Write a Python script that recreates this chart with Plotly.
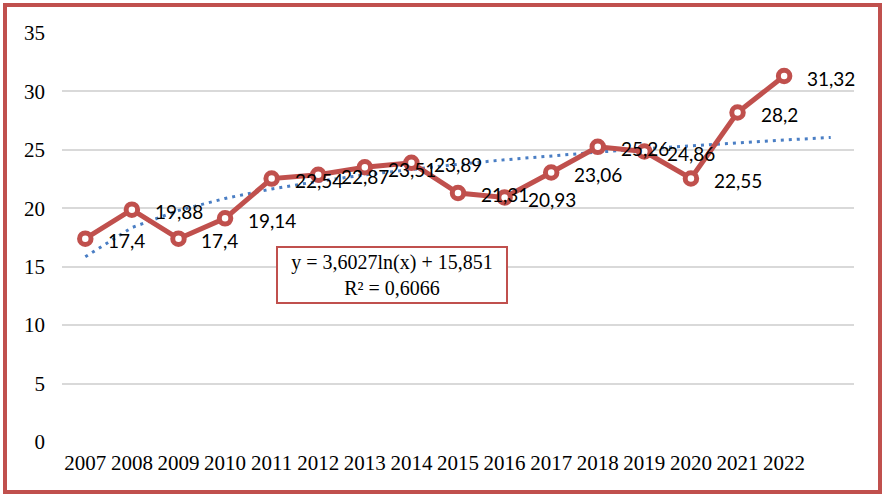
import math
import plotly.graph_objects as go

years = ["2007", "2008", "2009", "2010", "2011", "2012", "2013", "2014",
         "2015", "2016", "2017", "2018", "2019", "2020", "2021", "2022"]
values = [17.4, 19.88, 17.4, 19.14, 22.54, 22.87, 23.51, 23.89,
          21.31, 20.93, 23.06, 25.26, 24.86, 22.55, 28.2, 31.32]
value_labels = ["17,4", "19,88", "17,4", "19,14", "22,54", "22,87", "23,51", "23,89",
                "21,31", "20,93", "23,06", "25,26", "24,86", "22,55", "28,2", "31,32"]
trend_a = 3.6027
trend_b = 15.851
trend_forward = 1
equation_text = "y = 3,6027ln(x) + 15,851<br>R² = 0,6066"

RED = "#C0504D"
BLUE = "#4A7EC4"

xs = list(range(1, len(years) + 1))
trend_x = list(range(1, len(years) + 1 + trend_forward))
trend_y = [trend_a * math.log(x) + trend_b for x in trend_x]

fig = go.Figure()
fig.add_trace(go.Scatter(
    x=trend_x, y=trend_y, mode="lines",
    line=dict(color=BLUE, width=3, dash="3px,5px"),
    hoverinfo="skip", showlegend=False))
fig.add_trace(go.Scatter(
    x=xs, y=values, mode="lines+markers",
    line=dict(color=RED, width=5),
    marker=dict(symbol="circle", size=11.5, color="white",
                line=dict(color=RED, width=5)),
    showlegend=False))

for x, v, t in zip(xs, values, value_labels):
    fig.add_annotation(x=x, y=v, text=t, showarrow=False,
                       xanchor="left", yanchor="middle", xshift=21, yshift=-2,
                       font=dict(family="Lato", size=19, color="black"))

# plot area geometry (pixels)
L, R, T, B = 62, 29, 33, 52
W, H = 883, 494
pw, ph = W - L - R, H - T - B

def px(x):
    return (x - L) / pw

def py(y):
    return (H - B - y) / ph

fig.add_shape(type="rect", xref="paper", yref="paper",
              x0=px(5), x1=px(880), y0=py(492), y1=py(5),
              line=dict(color=RED, width=4), layer="above")

fig.add_annotation(xref="paper", yref="paper", x=px(392), y=py(275),
                   text=equation_text, showarrow=False,
                   xanchor="center", yanchor="middle",
                   width=226, height=52,
                   bordercolor=RED, borderwidth=2, bgcolor="white",
                   font=dict(family="Liberation Serif", size=20, color="black"))

fig.update_layout(
    width=W, height=H,
    margin=dict(l=L, r=R, t=T, b=B),
    paper_bgcolor="white", plot_bgcolor="white",
    xaxis=dict(range=[0.5, len(years) + trend_forward + 0.5],
               tickmode="array", tickvals=xs, ticktext=years,
               showgrid=False, zeroline=False, showline=False,
               ticks="", ticklabelstandoff=6,
               tickfont=dict(family="Liberation Serif", size=21, color="black")),
    yaxis=dict(range=[0, 35], dtick=5, tick0=0,
               showgrid=True, gridcolor="#D9D9D9", gridwidth=1.5,
               zeroline=False, showline=False, ticks="",
               ticklabelstandoff=16,
               tickfont=dict(family="Liberation Serif", size=21, color="black")),
)

fig.write_html("out.html",
               config={"displayModeBar": False},
               post_script="document.body.style.margin='0';document.body.style.overflow='hidden';")
